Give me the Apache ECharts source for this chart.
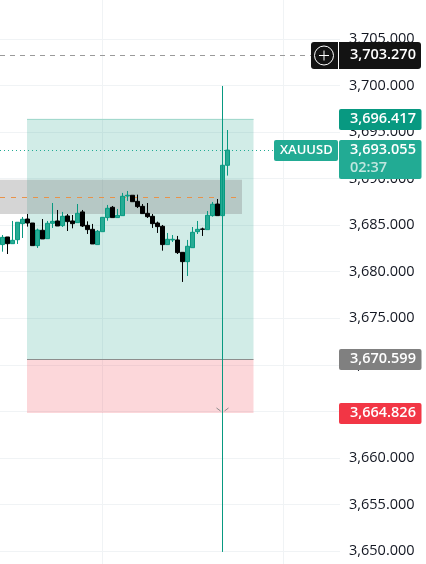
<!DOCTYPE html>
<html><head><meta charset="utf-8">
<style>html,body{margin:0;padding:0;background:#fff;overflow:hidden}#c{width:426px;height:564px}</style>
<script src="https://cdn.jsdelivr.net/npm/echarts@6/dist/echarts.min.js"></script>
</head><body><div id="c"></div>
<script>
const opens=[3682.91,3683.73,3683.01,3683.44,3685.16,3685.66,3685.23,3682.80,3684.45,3683.55,3685.20,3685.45,3684.95,3685.99,3685.45,3685.27,3686.42,3684.98,3684.55,3682.91,3684.30,3685.81,3686.92,3685.81,3686.02,3688.13,3688.21,3687.56,3687.02,3686.27,3685.95,3685.23,3684.88,3682.91,3683.41,3683.41,3682.08,3681.08,3682.58,3684.30,3684.59,3684.52,3686.02,3687.27,3686.02,3691.43];
const closes=[3683.69,3683.01,3683.37,3685.31,3685.63,3685.23,3682.80,3684.48,3683.52,3685.20,3685.41,3684.91,3685.95,3685.38,3685.16,3686.27,3684.91,3684.52,3682.98,3684.34,3685.84,3686.81,3685.81,3686.06,3688.10,3688.21,3687.52,3686.99,3686.24,3685.91,3685.16,3684.84,3682.91,3683.48,3683.48,3682.05,3681.08,3682.73,3684.23,3684.55,3684.55,3686.06,3687.24,3686.02,3691.43,3693.06];
const lows=[3682.15,3681.90,3683.01,3682.98,3683.62,3684.84,3682.80,3682.55,3683.52,3683.55,3684.70,3684.91,3684.80,3684.37,3684.66,3685.27,3684.80,3684.05,3682.98,3682.91,3684.30,3685.48,3685.81,3685.81,3686.02,3687.60,3687.52,3686.84,3686.24,3685.77,3684.70,3684.16,3682.26,3682.91,3683.19,3681.90,3678.90,3679.54,3682.58,3684.05,3683.84,3684.52,3685.91,3686.02,3686.02,3690.32];
const highs=[3683.94,3683.73,3685.45,3685.31,3685.88,3686.20,3685.23,3684.63,3685.66,3685.45,3687.38,3686.63,3686.42,3686.20,3686.09,3687.27,3686.63,3685.41,3685.13,3684.48,3685.84,3687.17,3687.06,3686.74,3688.46,3688.67,3688.21,3688.28,3687.27,3687.38,3686.20,3685.38,3685.02,3684.16,3683.94,3683.84,3682.08,3683.41,3684.80,3685.45,3684.73,3686.52,3687.49,3687.81,3691.43,3695.22];
const barSlots=68;
const categories=Array.from({length:barSlots},(_,i)=>String(i));
const candles=opens.map((o,i)=>[o,closes[i],lows[i],highs[i]]);
const tagPrices=[3703.27,3696.417,3693.055,3670.599,3664.826];
const tagTexts=['3,703.270','3,696.417','3,693.055','3,670.599','3,664.826'];
const tagColors=['#131313','#089981','#22ab94','#808080','#f23645'];
const symbolName='XAUUSD', countdown='02:37';
const zoneTop=3689.88, zoneBottom=3686.20, zoneMid=3687.99;
const targetPrice=3696.417, entryPrice=3670.599, stopPrice=3664.826, lastPrice=3693.055, crossPrice=3703.27;
const vLineIndex=44, vLineTop=3699.95, vLineBottom=3649.9;
const gridBars=[19.95,56.1];
const FONT='"Open Sans"';
const chart=echarts.init(document.getElementById('c'),null,{renderer:'canvas'});
function overlay(params,api){
  const i=params.dataIndex, p=tagPrices[i], y=Math.round(api.coord([0,p])[1]);
  const kids=[];
  const rect=(x,yy,w,h,fill,r)=>({type:'rect',shape:{x,y:yy,width:w,height:h,r:r||2},style:{fill}});
  const txt=(x,yy,t,fill,size)=>({type:'text',style:{x,y:yy,text:t,fill,font:'600 '+(size||14.5)+'px '+FONT,textAlign:'left',textVerticalAlign:'middle'}});
  if(i===0){
    kids.push(rect(311,y-13,110,27,'#131313',3));
    kids.push({type:'line',shape:{x1:338.5,y1:y-13,x2:338.5,y2:y+14},style:{stroke:'#fff',lineWidth:1}});
    kids.push({type:'circle',shape:{cx:324,cy:y+0.5,r:9.5},style:{fill:'none',stroke:'#fff',lineWidth:1}});
    kids.push({type:'line',shape:{x1:319,y1:y+.5,x2:329,y2:y+.5},style:{stroke:'#fff',lineWidth:1}});
    kids.push({type:'line',shape:{x1:324,y1:y-4.5,x2:324,y2:y+5.5},style:{stroke:'#fff',lineWidth:1}});
    kids.push(txt(350,y,tagTexts[i],'#fff'));
  } else if(i===2){
    kids.push(rect(274,y-10,64,21,tagColors[i]));
    kids.push(txt(280,y,symbolName,'#fff',13));
    kids.push(rect(339,y-10,82.5,39,tagColors[i]));
    kids.push(txt(350,y,tagTexts[i],'#fff'));
    kids.push(txt(350,y+18,countdown,'#bfe6df'));
  } else {
    kids.push(rect(339,y-10,82.5,21,tagColors[i]));
    kids.push(txt(350,y,tagTexts[i],'#fff'));
  }
  return {type:'group',children:kids};
}
chart.setOption({
  animation:false,backgroundColor:'#fff',
  grid:{left:0,top:-7.6,width:340,height:605.15,containLabel:false,outerBoundsMode:'none'},
  xAxis:[
    {type:'category',data:categories,axisLine:{show:false},axisTick:{show:false},axisLabel:{show:false},splitLine:{show:false}},
    {type:'value',min:-0.5,max:67.5,show:false,splitLine:{show:false}}
  ],
  yAxis:{type:'value',position:'right',min:3645,max:3710,interval:5,
    axisLine:{show:false},axisTick:{show:false},
    splitLine:{show:true,lineStyle:{color:'#f0f3f5',width:1}},
    axisLabel:{inside:false,margin:9,color:'#131722',fontFamily:FONT,fontSize:14.5,padding:[0,0,3,0],
      formatter:v=>v.toLocaleString('en-US',{minimumFractionDigits:3,maximumFractionDigits:3})}},
  series:[
    {type:'line',name:'gridmarks',xAxisIndex:1,data:[],silent:true,z:0,symbol:'none',
      markLine:{z:0,silent:true,symbol:'none',label:{show:false},animation:false,
        lineStyle:{color:'#f0f3f5',width:1,type:'solid'},
        data:[{xAxis:gridBars[0]},{xAxis:gridBars[1]}]}},
    {type:'line',name:'backdrop',xAxisIndex:1,data:[],silent:true,z:1,symbol:'none',
      markArea:{z:1,silent:true,label:{show:false},data:[
        [{coord:[4.9,targetPrice],itemStyle:{color:'rgba(8,153,129,0.19)'}},{coord:[50.2,entryPrice]}],
        [{coord:[4.9,entryPrice],itemStyle:{color:'rgba(242,54,69,0.2)'}},{coord:[50.2,stopPrice]}],
        [{coord:[-0.5,zoneTop],itemStyle:{color:'rgba(128,128,128,0.33)'}},{coord:[47.9,zoneBottom]}]
      ]}},
    {type:'line',name:'levels',xAxisIndex:1,data:[],silent:true,z:2,symbol:'none',
      markLine:{z:2,silent:true,symbol:'none',label:{show:false},animation:false,data:[
        [{coord:[4.9,targetPrice],lineStyle:{color:'#a3d9cd',width:1,type:'solid'}},{coord:[50.2,targetPrice]}],
        [{coord:[4.9,entryPrice],lineStyle:{color:'#8d8d8d',width:1,type:'solid'}},{coord:[50.2,entryPrice]}],
        [{coord:[-0.5,zoneMid],lineStyle:{color:'#e8924a',width:1,type:[5,6]}},{coord:[47.1,zoneMid]}],
        [{coord:[-0.5,lastPrice],lineStyle:{color:'#22ab94',width:1,type:[1,3]}},{coord:[54.5,lastPrice]}],
        [{coord:[-0.5,crossPrice],lineStyle:{color:'#9a9a9a',width:1,type:[5,5]}},{coord:[61.8,crossPrice]}]
      ]}},
    {type:'candlestick',name:'XAUUSD',data:candles,barWidth:5,z:3,clip:false,
      itemStyle:{color:'#26ab94',color0:'#000000',borderColor:'#089981',borderColor0:'#000000',borderWidth:1}},
    {type:'line',name:'cursor',xAxisIndex:1,data:[],silent:true,z:4,symbol:'none',
      markLine:{z:4,silent:true,symbol:'none',label:{show:false},animation:false,data:[
        [{coord:[vLineIndex,vLineTop],lineStyle:{color:'#089981',width:1,type:'solid'}},{coord:[vLineIndex,vLineBottom]}]
      ]}},
    {type:'custom',name:'chevron',data:[[vLineIndex,stopPrice]],z:5,silent:true,clip:false,
      renderItem:(p,api)=>{const c=api.coord([api.value(0),api.value(1)]);
        return {type:'group',children:[
          {type:'line',shape:{x1:c[0]-6,y1:c[1]-5,x2:c[0]-2,y2:c[1]-2},style:{stroke:'#8a8a8a',lineWidth:1}},
          {type:'line',shape:{x1:c[0]+6,y1:c[1]-5,x2:c[0]+2,y2:c[1]-2},style:{stroke:'#8a8a8a',lineWidth:1}}]};}},
    {type:'custom',name:'tags',data:tagPrices.map(v=>[0,v]),z:10,silent:true,clip:false,renderItem:overlay}
  ]
});
</script></body></html>
